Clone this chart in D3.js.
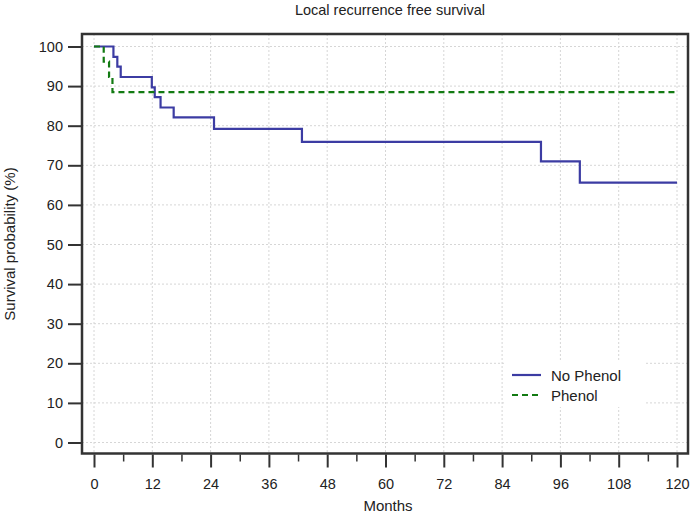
<!DOCTYPE html>
<html>
<head>
<meta charset="utf-8">
<script src="https://cdn.jsdelivr.net/npm/d3@7"></script>
<style>
  body { margin: 0; background: #fff; }
  svg { display: block; font-family: "Liberation Sans", Arial, sans-serif; }
</style>
</head>
<body>
<svg id="chart" width="690" height="514"></svg>
<script>
const xTicks = [0, 12, 24, 36, 48, 60, 72, 84, 96, 108, 120];
const xMinorTicks = [6, 18, 30, 42, 54, 66, 78, 90, 102, 114];
const yTicks = [0, 10, 20, 30, 40, 50, 60, 70, 80, 90, 100];

const noPhenolTime = [0, 4.0, 4.8, 5.5, 11.9, 12.5, 13.7, 16.4, 24.7, 42.8, 92.0, 100.0, 120];
const noPhenolSurv = [100, 97.4, 94.9, 92.3, 89.7, 87.2, 84.6, 82.1, 79.2, 75.9, 71.0, 65.6, 65.6];
const phenolTime = [0, 2.0, 3.1, 3.8, 120];
const phenolSurv = [100, 96.2, 92.3, 88.5, 88.5];

const seriesNames = ["No Phenol", "Phenol"];
const seriesColors = ["#3c3ca3", "#127a12"];

const svg = d3.select("#chart");
const x = d3.scaleLinear().domain([0, 120]).range([94, 677]);
const y = d3.scaleLinear().domain([0, 100]).range([442.5, 46.5]);

const frame = { left: 82, top: 34, right: 688, bottom: 453.5 };

// grid
const grid = svg.append("g");
grid.selectAll("line.gx").data(xTicks).join("line")
  .attr("x1", d => x(d)).attr("x2", d => x(d))
  .attr("y1", frame.top).attr("y2", frame.bottom)
  .attr("stroke", "#d6d6d6").attr("stroke-width", 1).attr("stroke-dasharray", "2,2");
grid.selectAll("line.gy").data(yTicks).join("line")
  .attr("x1", frame.left).attr("x2", frame.right)
  .attr("y1", d => y(d)).attr("y2", d => y(d))
  .attr("stroke", "#d6d6d6").attr("stroke-width", 1).attr("stroke-dasharray", "2,2");

// curves
const line = d3.line().x(d => x(d[0])).y(d => y(d[1])).curve(d3.curveStepAfter);
const noPhenol = noPhenolTime.map((t, i) => [t, noPhenolSurv[i]]);
const phenol = phenolTime.map((t, i) => [t, phenolSurv[i]]);

svg.append("path").datum(noPhenol).attr("d", line)
  .attr("fill", "none").attr("stroke", seriesColors[0]).attr("stroke-width", 2.2);
svg.append("path").datum(phenol).attr("d", line)
  .attr("fill", "none").attr("stroke", seriesColors[1]).attr("stroke-width", 2.2)
  .attr("stroke-dasharray", "6,4");

// legend
const lg = svg.append("g");
lg.append("rect").attr("x", 504).attr("y", 361).attr("width", 142).attr("height", 46).attr("fill", "#fff");
seriesNames.forEach((n, i) => {
  const yy = 375 + i * 20;
  lg.append("line").attr("x1", 512).attr("x2", 541).attr("y1", yy).attr("y2", yy)
    .attr("stroke", seriesColors[i]).attr("stroke-width", 2.2)
    .attr("stroke-dasharray", i === 1 ? "6,4" : null);
  lg.append("text").attr("x", 551).attr("y", yy + 5.5).text(n)
    .attr("font-size", 15).attr("fill", "#222");
});

// frame
svg.append("rect").attr("x", frame.left).attr("y", frame.top)
  .attr("width", frame.right - frame.left).attr("height", frame.bottom - frame.top)
  .attr("fill", "none").attr("stroke", "#333").attr("stroke-width", 2.5);

// axes
const yAxis = svg.append("g").attr("transform", `translate(${frame.left - 1},0)`)
  .call(d3.axisLeft(y).tickValues(yTicks).tickSize(13).tickPadding(5).tickSizeOuter(0));
yAxis.select(".domain").remove();
yAxis.selectAll(".tick line").attr("stroke", "#333").attr("stroke-width", 2);
yAxis.selectAll(".tick text").attr("font-size", 14.5).attr("fill", "#222")
  .attr("font-family", "Liberation Sans, Arial, sans-serif");

const xAxis = svg.append("g").attr("transform", `translate(0,${frame.bottom + 1})`)
  .call(d3.axisBottom(x).tickValues(xTicks).tickSize(13).tickPadding(11).tickSizeOuter(0));
xAxis.select(".domain").remove();
xAxis.selectAll(".tick line").attr("stroke", "#333").attr("stroke-width", 2);
xAxis.selectAll(".tick text").attr("font-size", 14.5).attr("fill", "#222")
  .attr("font-family", "Liberation Sans, Arial, sans-serif");

const xMinor = svg.append("g").attr("transform", `translate(0,${frame.bottom + 1})`)
  .call(d3.axisBottom(x).tickValues(xMinorTicks).tickSize(7).tickFormat(""));
xMinor.select(".domain").remove();
xMinor.selectAll(".tick line").attr("stroke", "#333").attr("stroke-width", 1.5);

// titles
svg.append("text").attr("x", 390).attr("y", 15).attr("text-anchor", "middle")
  .attr("font-size", 14.5).attr("fill", "#222").text("Local recurrence free survival");
svg.append("text").attr("x", 388).attr("y", 511).attr("text-anchor", "middle")
  .attr("font-size", 15).attr("fill", "#222").text("Months");
svg.append("text").attr("transform", "translate(15,244) rotate(-90)").attr("text-anchor", "middle")
  .attr("font-size", 15).attr("fill", "#222").text("Survival probability (%)");
</script>
</body>
</html>
